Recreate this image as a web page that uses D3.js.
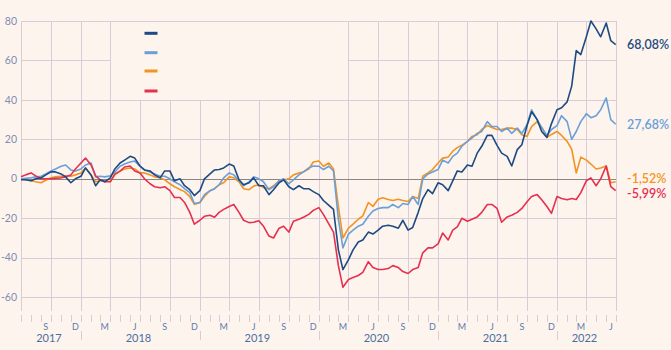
<!DOCTYPE html>
<html><head><meta charset="utf-8">
<script src="https://cdn.jsdelivr.net/npm/d3@7"></script>
<style>html,body{margin:0;padding:0;background:#fdf4ee;} svg{display:block}</style>
</head><body><svg id="c" width="671" height="350"></svg>
<script>
const dates = ["2017-07-01","2017-07-15","2017-08-01","2017-08-15","2017-09-01","2017-09-15","2017-10-01","2017-10-15","2017-11-01","2017-11-15","2017-12-01","2017-12-15",
"2018-01-01","2018-01-15","2018-02-01","2018-02-15","2018-03-01","2018-03-15","2018-04-01","2018-04-15","2018-05-01","2018-05-15","2018-06-01","2018-06-15","2018-07-01","2018-07-15","2018-08-01","2018-08-15","2018-09-01","2018-09-15","2018-10-01","2018-10-15","2018-11-01","2018-11-15","2018-12-01","2018-12-15",
"2019-01-01","2019-01-15","2019-02-01","2019-02-15","2019-03-01","2019-03-15","2019-04-01","2019-04-15","2019-05-01","2019-05-15","2019-06-01","2019-06-15","2019-07-01","2019-07-15","2019-08-01","2019-08-15","2019-09-01","2019-09-15","2019-10-01","2019-10-15","2019-11-01","2019-11-15","2019-12-01","2019-12-15",
"2020-01-01","2020-01-15","2020-02-01","2020-02-15","2020-03-01","2020-03-15","2020-04-01","2020-04-15","2020-05-01","2020-05-15","2020-06-01","2020-06-15","2020-07-01","2020-07-15","2020-08-01","2020-08-15","2020-09-01","2020-09-15","2020-10-01","2020-10-15","2020-11-01","2020-11-15","2020-12-01","2020-12-15",
"2021-01-01","2021-01-15","2021-02-01","2021-02-15","2021-03-01","2021-03-15","2021-04-01","2021-04-15","2021-05-01","2021-05-15","2021-06-01","2021-06-15","2021-07-01","2021-07-15","2021-08-01","2021-08-15","2021-09-01","2021-09-15","2021-10-01","2021-10-15","2021-11-01","2021-11-15","2021-12-01","2021-12-15",
"2022-01-01","2022-01-15","2022-02-01","2022-02-15","2022-03-01","2022-03-15","2022-04-01","2022-04-15","2022-05-01","2022-05-15","2022-06-01","2022-06-15","2022-06-30"];

const darkBlue = [-0.5,-0.5,-1,0,0.5,2,3.5,3.5,2.5,1,
-2,0,1.3,5.5,2,-3.5,-0.5,-1.5,0.5,5,
8,9.5,11.4,10.5,6.5,4.5,4,2,0.5,4,
4,-1,0,-3.5,-5.5,-8.5,-6,0,2.5,4.5,
4.7,5.5,7.5,6.5,-0.5,-3,-2,0.5,-3.5,-3.5,
-8,-5.5,-2,-0.5,-4,-5.5,-3.5,-5,-5,-6.5,
-8,-11,-13.5,-15.5,-36,-46,-41,-36,-32,-31,
-27,-28,-26,-24,-23.5,-24,-25,-21,-26,-24.7,
-17,-10,-5.5,-7.5,-2,-3,-6,-1,4,3.5,
7,6.4,13,16.5,22,22,17,13,11.4,6.5,
14.8,17.3,27,34,30,24,21,28,35,36,
39,47,65,63,72,80,76,72,79,70,
68.08];

const lightBlue = [0,0.3,0.5,1,1.3,2.5,4,5,6.4,7,
4.5,4,5,7,8,1,1.3,1,1.5,3.5,
6.4,7.5,8.5,9,6.4,4.5,3.5,2.5,1.3,1.3,
0,-1.5,-3,-5,-7,-12.5,-12,-8,-6,-5,
-3,0.5,3,2,-1,-3.5,-1.5,1,0,-1.5,
-5.5,-4,-1,0,-2.5,-0.5,2,3.5,5.5,6.5,
6.4,4.7,6.4,4,-20.5,-35,-28,-26,-24,-23,
-19,-16.3,-15,-14.6,-14.6,-13,-14.6,-12.5,-13,-9,
-13,0,2.5,3.5,4.7,9.5,8,11.4,13,16.5,
19,20.7,23,24,29,26.5,26.5,24,25.7,23,
25.7,23,27.5,35,30,26,22,25,27,32,
29,20,24,29,33,31,32,35,41,30,
27.68];

const orange = [0,-0.5,-1,-1.5,-2,-0.7,0.5,1,1.3,1.5,
1.3,2,3,5.5,2,-1.5,-1,-1,-1.5,2,
3.9,5,5.5,5,3,3,2,1,0.5,-0.5,
-2.5,-4,-5.4,-6.5,-9,-13,-12,-9,-6,-5,
-3,-2,1,0.5,-1.5,-5,-5.5,-3.7,-3,-4.5,
-5,-3.5,-1,-0.5,0,2,3,3.5,5,8.5,
9,6.4,8,5,-14,-30,-25,-23,-20.5,-18.8,
-12,-14,-10.4,-9.6,-10.5,-11,-10.4,-11,-11.5,-9,
-10,1.3,3,4.7,8,10.5,11,14,15.8,17,
19,21.5,22.4,25,27,26,25,25,25.7,25.7,
25,22.4,21.5,26.5,29,26,21,22.5,24,22,
19,15,3,11,9.5,7.5,5,5.5,6.5,-2,
-1.52];

const red = [1,2,3,1.5,0,0,0,0.3,0.5,1,
2,5,8,10.5,7,1.5,-0.5,-1.5,-1.5,2.5,
3.9,6,6.5,4,3,0,-2.5,-4,-4.5,-4,
-6,-9.5,-9.5,-12,-17,-23,-21,-19,-18.5,-19.5,
-17,-15.5,-14,-13,-17,-21,-22.2,-22,-21.3,-24,
-29,-30,-25,-24,-27,-21.5,-20.5,-19.5,-18,-16,
-14.6,-18,-23,-27,-44,-55,-51,-50,-49,-47.4,
-42,-45,-46,-46,-45.5,-44,-45,-47,-48,-46,
-45,-37.5,-35,-35,-33,-27.5,-31,-26,-24.4,-20,
-21.5,-20.5,-19.3,-17,-13,-13,-15,-22,-19.3,-18.5,
-17,-15,-11.6,-9,-8,-10.6,-14,-17.5,-9,-10,
-10.6,-10,-10.5,-7,-1,0.5,-3.5,0,6.5,-4,
-5.99];

const endLabels = ["68,08%","27,68%","-1,52%","-5,99%"];
const seriesColors = ["#1d4a80","#6a9fd8","#f39322","#e5304f"];
const yTicks = [80,60,40,20,0,-20,-40,-60];
const monthLetters = {2:"M",5:"J",8:"S",11:"D"};
const years = [2017,2018,2019,2020,2021,2022];

const parse = d3.timeParse("%Y-%m-%d");
const dd = dates.map(parse);
const start = new Date(2017,6,1), end = new Date(2022,6,1);
const x = d3.scaleTime().domain([start,end]).range([21,616]);
const y = d3.scaleLinear().domain([-67,80]).range([311,21]);

const svg = d3.select("#c");
svg.append("rect").attr("width",671).attr("height",350).attr("fill","#fdf4ee");

const gridCol = "#dacbd9";
const g = svg.append("g");
g.selectAll(".hg").data(yTicks.filter(t=>t!==0)).join("line")
  .attr("x1",21).attr("x2",616).attr("y1",d=>Math.round(y(d))+0.5).attr("y2",d=>Math.round(y(d))+0.5)
  .attr("stroke",gridCol).attr("stroke-width",1);
const quarters = d3.timeMonth.every(3).range(start, d3.timeDay.offset(end,1));
g.selectAll(".vg").data(quarters).join("line")
  .attr("x1",d=>Math.round(x(d))+0.5).attr("x2",d=>Math.round(x(d))+0.5)
  .attr("y1",y(80)).attr("y2",311)
  .attr("stroke",gridCol).attr("stroke-width",1);

const lx0 = Math.round(x(new Date(2018,3,1)))+1, lx1 = Math.round(x(new Date(2020,3,1)));
svg.append("rect").attr("x",lx0).attr("y",Math.round(y(80))+1).attr("width",lx1-lx0).attr("height",Math.round(y(40))-Math.round(y(80))-1)
  .attr("fill","#fdf4ee");

svg.append("line").attr("x1",21).attr("x2",616).attr("y1",Math.round(y(0))+0.5).attr("y2",Math.round(y(0))+0.5)
  .attr("stroke","#8c8585").attr("stroke-width",1);

svg.selectAll(".yl").data(yTicks).join("text")
  .attr("x",17).attr("y",d=>y(d)).attr("dy","0.35em").attr("text-anchor","end")
  .attr("font-family","Lato, 'Open Sans', sans-serif").attr("font-size",10.5).attr("fill","#7e8db2")
  .text(d=>d);

const months = d3.timeMonth.range(start, d3.timeDay.offset(end,1));
svg.selectAll(".mt").data(months).join("line")
  .attr("x1",d=>Math.round(x(d))+0.5).attr("x2",d=>Math.round(x(d))+0.5).attr("y1",315).attr("y2",322)
  .attr("stroke",gridCol).attr("stroke-width",1);
svg.selectAll(".ml").data(months.filter(m=>monthLetters[m.getMonth()])).join("text")
  .attr("x",d=>x(d3.timeDay.offset(d,14))).attr("y",326.5).attr("dy","0.35em").attr("text-anchor","middle")
  .attr("font-family","Lato, 'Open Sans', sans-serif").attr("font-size",9).attr("fill","#5c7aab")
  .text(d=>monthLetters[d.getMonth()]);
svg.selectAll(".ys").data(years.slice(1)).join("line")
  .attr("x1",d=>Math.round(x(new Date(d,0,1)))+0.5).attr("x2",d=>Math.round(x(new Date(d,0,1)))+0.5)
  .attr("y1",331).attr("y2",340).attr("stroke",gridCol).attr("stroke-width",1);
svg.selectAll(".yt").data(years).join("text")
  .attr("x",d=>{const a=Math.max(+start,+new Date(d,0,1)), b=Math.min(+end,+new Date(d+1,0,1)); return (x(new Date(a))+x(new Date(b)))/2-2;})
  .attr("y",338).attr("dy","0.35em").attr("text-anchor","middle")
  .attr("font-family","Lato, 'Open Sans', sans-serif").attr("font-size",11).attr("fill","#4b6e9f")
  .text(d=>d);

const allSeries = [darkBlue, lightBlue, orange, red];
const line = d3.line().x((d,i)=>x(dd[i])).y(d=>y(d));
const order = [2,1,3,0];
order.forEach(k=>{
  svg.append("path").datum(allSeries[k]).attr("d",line).attr("fill","none")
    .attr("stroke",seriesColors[k]).attr("stroke-width",1.6).attr("stroke-linejoin","round");
});

const legY = [33.3,52.7,71,91];
legY.forEach((ly,k)=>{
  svg.append("rect").attr("x",144.5).attr("y",ly-1.5).attr("width",13).attr("height",3)
    .attr("fill",seriesColors[k]);
});

const pos = allSeries.map((s,k)=>({k, v:y(s[s.length-1])}));
pos.sort((a,b)=>a.v-b.v);
for(let it=0; it<20; it++){
  for(let i=1;i<pos.length;i++){
    const gap = pos[i].v-pos[i-1].v;
    if(gap<15){const s=(15-gap)/2; pos[i].v+=s; pos[i-1].v-=s;}
  }
}
pos.forEach(p=>{
  svg.append("text").attr("x",627).attr("y",p.v).attr("dy","0.35em")
    .attr("font-family","Lato, 'Open Sans', sans-serif").attr("font-size",12.5).attr("font-weight",600)
    .attr("fill",seriesColors[p.k]).text(endLabels[p.k]);
});
</script></body></html>
